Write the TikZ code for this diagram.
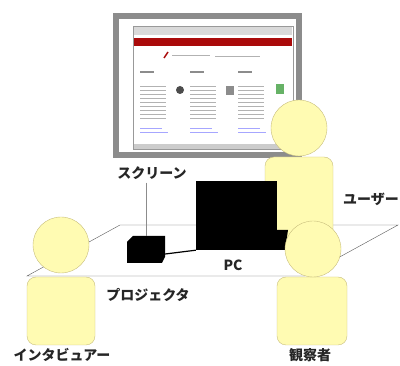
\documentclass[tikz,border=0pt]{standalone}
\usepackage{fontspec}
\newfontfamily\jp{Noto Sans CJK JP}
\definecolor{skin}{RGB}{255,251,178}
\definecolor{skinline}{RGB}{200,190,125}
\definecolor{frame}{RGB}{140,140,140}
\definecolor{webred}{RGB}{170,10,10}
\tikzset{
  head/.style={circle,draw=skinline,fill=skin,minimum size=56pt,inner sep=0pt},
  body/.style={rectangle,rounded corners=9pt,draw=skinline,fill=skin,inner sep=0pt},
  lbl/.style={font=\jp\bfseries\fontsize{14}{14}\selectfont,text=black!85,inner sep=0pt},
  txt/.style={black!30,line width=1pt}
}
\begin{document}
\begin{tikzpicture}[x=1pt,y=-1pt]
\useasboundingbox (0,0) rectangle (400,366);
% screen on the wall
\fill[frame] (113,13) rectangle (302,158);
\fill[white] (119,19) rectangle (296,152);
\draw[black!40,fill=white] (133,26) rectangle (293,149);
\fill[black!15] (134,27) rectangle (292,35);
\fill[webred] (134,38) rectangle (292,46);
\fill[black!20] (134,144) rectangle (292,149);
\draw[webred,line width=1.5pt] (164,58) -- (168,52);
\draw[txt] (172,56) -- (210,56) (215,57) -- (260,57);
% three columns of text
\foreach \cx in {140,190,238} {
  \draw[black!45,line width=1.5pt] (\cx,72) -- ++(14,0);
  \foreach \row in {86,90,...,118}
    \draw[txt,line width=0.8pt] (\cx,\row) -- ++(26,0);
  \draw[blue!35,line width=0.8pt] (\cx,128) -- ++(22,0) (\cx,132) -- ++(28,0);
}
\fill[black!70] (180,90) circle (4);
\fill[black!45] (226,86) rectangle (234,95);
\fill[green!50!black!60] (276,84) rectangle (284,94);
% table
\coordinate (tl) at (120,225);
\coordinate (tr) at (398,225);
\coordinate (br) at (305,276);
\coordinate (bl) at (27,276);
\draw[black!65,fill=white] (tl) -- (tr) -- (br) -- (bl) -- cycle;
% user behind the table
\node[body,minimum width=68pt,minimum height=80pt] (userbody) at (299,197) {};
\node[head] (userhead) at (299,128) {};
% PC and projector
\fill (196,181) rectangle (277,250);
\fill (277,230) -- (288,230) -- (285,250) -- (277,250) -- cycle;
\node[inner sep=0pt,minimum width=81pt,minimum height=69pt] (pc) at (236.5,215.5) {};
\fill (127,242) -- (133,236) -- (165,236) -- (165,257) -- (162,263) -- (127,263) -- cycle;
\node[inner sep=0pt,minimum width=38pt,minimum height=27pt] (proj) at (146,249.5) {};
\draw[line width=1.2pt] (proj.east |- 0,254) -- (pc.south west);
% observer and interviewer
\node[body,minimum width=70pt,minimum height=68pt] (obsbody) at (312,311) {};
\node[head] (obshead) at (313,249) {};
\node[body,minimum width=68pt,minimum height=68pt] (intbody) at (61,311) {};
\node[head] (inthead) at (61,245) {};
% labels
\node[lbl] (screen) at (152,173) {スクリーン};
\node[lbl] (user) at (371,199) {ユーザー};
\node[lbl] (pclbl) at (233,265) {PC};
\node[lbl] (projlbl) at (148,295) {プロジェクタ};
\node[lbl] (intlbl) at (62,355) {インタビュアー};
\node[lbl] (obslbl) at (310,355) {観察者};
\draw[black!45,line width=0.4pt] (proj.north |- screen.south) ++(0,3) -- (proj.north);
\end{tikzpicture}
\end{document}
